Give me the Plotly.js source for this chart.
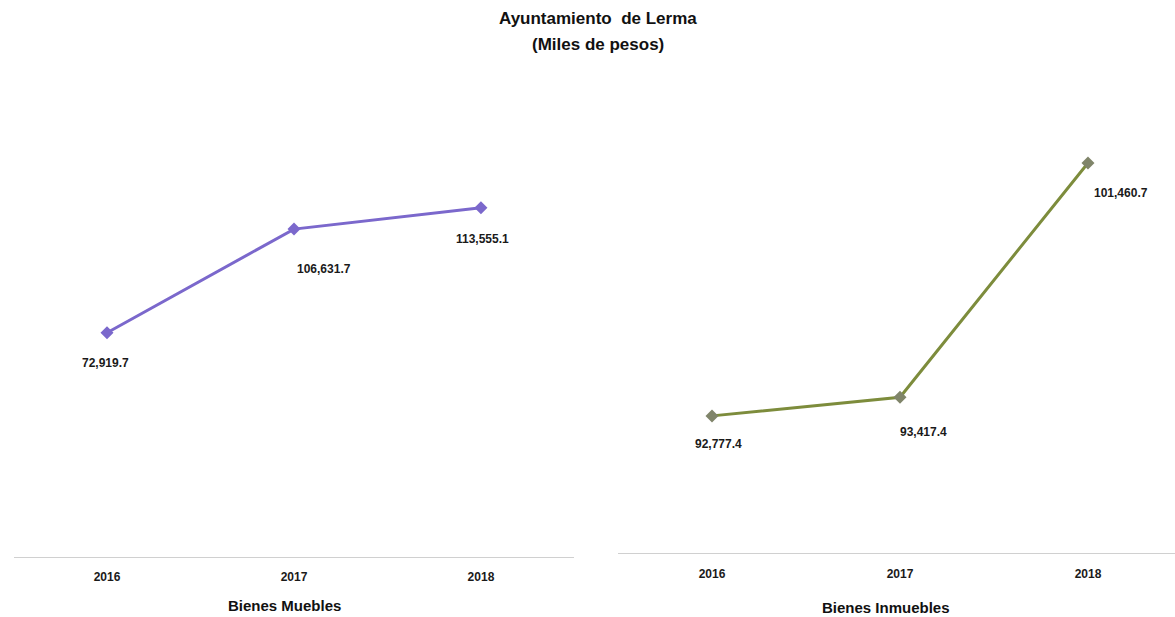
<!DOCTYPE html>
<html>
<head>
<meta charset="utf-8">
<script src="https://cdn.plot.ly/plotly-3.0.1.min.js"></script>
<style>html,body{margin:0;padding:0;background:#fff;}#chart{width:1175px;height:617px;}</style>
</head>
<body>
<div id="chart"></div>
<script>
var years = ["2016", "2017", "2018"];
var muebles = [72919.7, 106631.7, 113555.1];
var inmuebles = [92777.4, 93417.4, 101460.7];
var mueblesLabels = ["72,919.7", "106,631.7", "113,555.1"];
var inmueblesLabels = ["92,777.4", "93,417.4", "101,460.7"];
var titleLines = ["Ayuntamiento  de Lerma", "(Miles de pesos)"];
var panelTitles = ["Bienes Muebles", "Bienes Inmuebles"];

var FONT = '"Liberation Sans", Arial, sans-serif';

var traces = [
  {x: years, y: muebles, xaxis: 'x', yaxis: 'y', mode: 'lines+markers', type: 'scatter',
   line: {color: '#7b68cc', width: 3}, marker: {symbol: 'diamond', size: 10, color: '#7b68cc'},
   hoverinfo: 'skip', showlegend: false},
  {x: years, y: inmuebles, xaxis: 'x2', yaxis: 'y2', mode: 'lines+markers', type: 'scatter',
   line: {color: '#7d8c3c', width: 3}, marker: {symbol: 'diamond', size: 10, color: '#80856a'},
   hoverinfo: 'skip', showlegend: false}
];

var mShift = [[-2, -30], [30, -40], [2, -31]];
var iShift = [[6, -28], [23, -35], [33, -30]];
var annotations = [];
years.forEach(function (yr, i) {
  annotations.push({x: i, y: muebles[i], xref: 'x', yref: 'y', text: '<b>' + mueblesLabels[i] + '</b>',
    showarrow: false, xshift: mShift[i][0], yshift: mShift[i][1], font: {family: FONT, size: 12, color: '#1a1a1a'}});
  annotations.push({x: i, y: inmuebles[i], xref: 'x2', yref: 'y2', text: '<b>' + inmueblesLabels[i] + '</b>',
    showarrow: false, xshift: iShift[i][0], yshift: iShift[i][1], font: {family: FONT, size: 12, color: '#1a1a1a'}});
});
function paperText(txt, px, py, size) {
  return {x: px / 1175, y: 1 - py / 617, xref: 'paper', yref: 'paper', xanchor: 'center', yanchor: 'middle',
    text: '<b>' + txt + '</b>', showarrow: false, font: {family: FONT, size: size, color: '#111'}};
}
annotations.push(paperText(titleLines[0], 598, 18, 17));
annotations.push(paperText(titleLines[1], 598, 44, 17));
annotations.push(paperText(panelTitles[0], 284, 605, 15));
annotations.push(paperText(panelTitles[1], 886, 607, 15));

var axisCommon = {
  type: 'category', showgrid: false, zeroline: false, showline: true, linecolor: '#d0d0d0', linewidth: 1,
  ticks: '', tickfont: {family: FONT, size: 12, color: '#1a1a1a', weight: 'bold'}
};
var yHidden = {showgrid: false, zeroline: false, showline: false, showticklabels: false, ticks: ''};

var layout = {
  width: 1175, height: 617,
  margin: {l: 0, r: 0, t: 0, b: 0},
  paper_bgcolor: '#ffffff', plot_bgcolor: 'rgba(0,0,0,0)',
  xaxis: Object.assign({}, axisCommon, {domain: [0.0115, 0.4889], range: [-0.5, 2.5], anchor: 'y', ticklabelstandoff: 9}),
  yaxis: Object.assign({}, yHidden, {domain: [0.0972, 0.8947], range: [0, 160000], anchor: 'x'}),
  xaxis2: Object.assign({}, axisCommon, {domain: [0.526, 1], range: [-0.5, 2.463], anchor: 'y2', ticklabelstandoff: 10}),
  yaxis2: Object.assign({}, yHidden, {domain: [0.1037, 0.859], range: [88069, 104069], anchor: 'x2'}),
  annotations: annotations
};

Plotly.newPlot('chart', traces, layout, {displayModeBar: false, staticPlot: true});
</script>
</body>
</html>
